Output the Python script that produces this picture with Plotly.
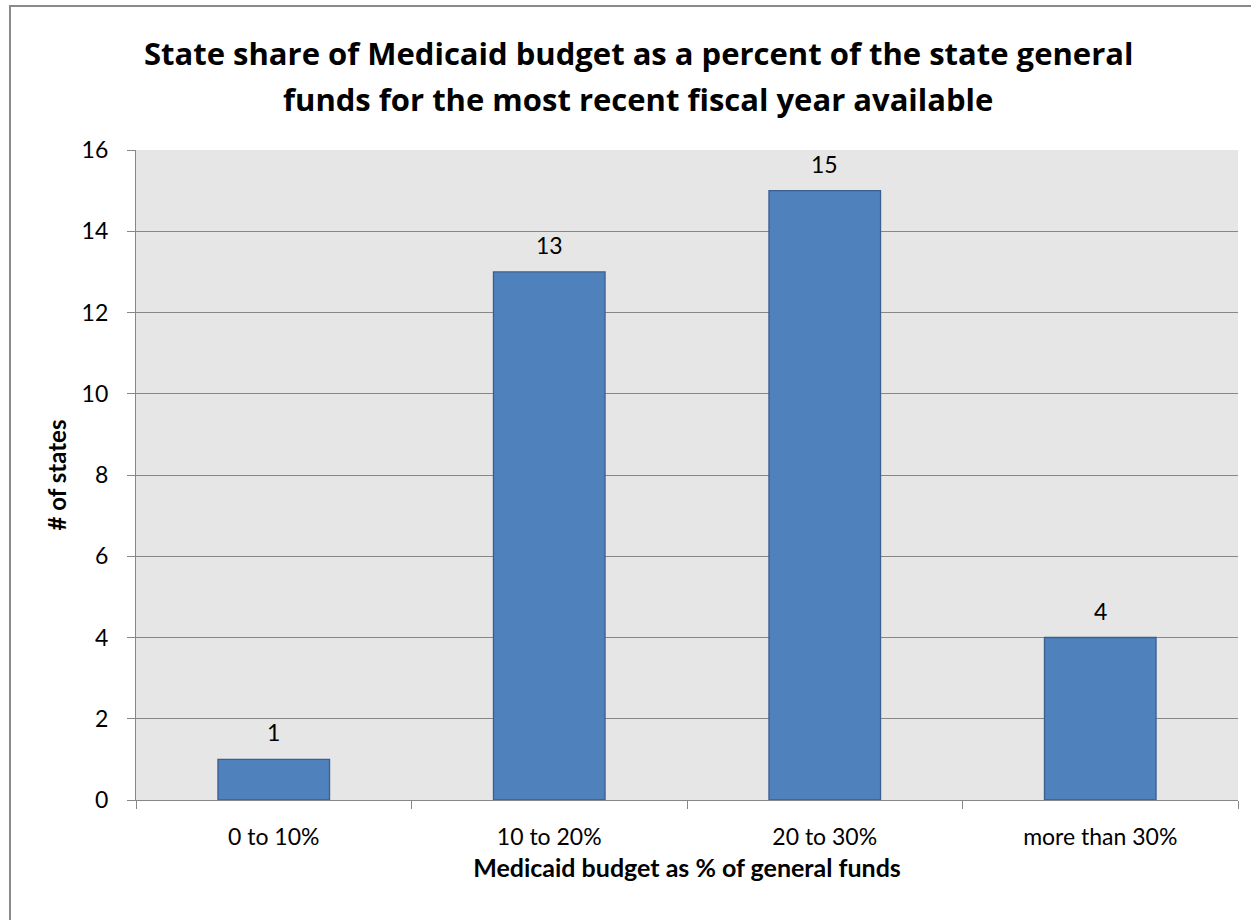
import plotly.graph_objects as go

# Number of states by Medicaid share of state general funds
categories = ["0 to 10%", "10 to 20%", "20 to 30%", "more than 30%"]
state_counts = [1, 13, 15, 4]
y_ticks = [0, 2, 4, 6, 8, 10, 12, 14, 16]

title_lines = ["State share of Medicaid budget as a percent of the state general",
               "funds for the most recent fiscal year available"]
x_title = "Medicaid budget as % of general funds"
y_title = "# of states"

FONT = "Lato"
TITLE_FONT = "Open Sans"
GRID = "#878787"

W, H = 1251, 920
ML, MR, MT, MB = 136, 13, 150, 120
PW, PH = W - ML - MR, H - MT - MB


def px_x(p):
    return (p - ML) / PW


def px_y(p):
    return (H - MB - p) / PH


fig = go.Figure()
fig.add_trace(go.Bar(
    x=categories,
    y=state_counts,
    marker=dict(color="#4f81bd", line=dict(color="#3a6090", width=1.3)),
    width=0.405,
    hoverinfo="x+y",
))

# value labels above each bar
for cat, val in zip(categories, state_counts):
    fig.add_annotation(x=cat, y=val, text=str(val), showarrow=False,
                       yshift=27, font=dict(family=FONT, size=23, color="#000000"))

# chart title, one annotation per line for wider line spacing
for line, ypix in zip(title_lines, [53, 99]):
    fig.add_annotation(xref="paper", yref="paper", x=px_x(638), y=px_y(ypix),
                       xanchor="center", yanchor="middle", showarrow=False,
                       text=line,
                       font=dict(family=TITLE_FONT, size=31, color="#000000",
                                 weight="bold"))

# outer chart frame
fig.add_shape(type="rect", xref="paper", yref="paper",
              x0=px_x(10), x1=px_x(1275), y0=px_y(940), y1=px_y(6),
              line=dict(color="#8a8a8a", width=2), fillcolor="rgba(0,0,0,0)",
              layer="below")

fig.update_layout(
    width=W, height=H,
    margin=dict(l=ML, r=MR, t=MT, b=MB),
    paper_bgcolor="#ffffff",
    plot_bgcolor="#e6e6e6",
    showlegend=False,
    xaxis=dict(
        type="category", tickson="boundaries", ticks="outside", ticklen=8,
        tickcolor=GRID, tickwidth=1.3, showline=True, linecolor=GRID, linewidth=1.3,
        showgrid=False, tickfont=dict(family=FONT, size=23, color="#000000"),
        ticklabelstandoff=16,
        title=dict(text=x_title, standoff=10,
                   font=dict(family=FONT, size=25, color="#000000", weight="bold")),
        range=[-0.5, 3.5],
    ),
    yaxis=dict(
        range=[0, 16], tickvals=y_ticks, ticks="outside", ticklen=8,
        tickcolor=GRID, tickwidth=1.3, showline=True, linecolor=GRID, linewidth=1.3,
        showgrid=True, gridcolor=GRID, gridwidth=1.3, zeroline=False,
        tickfont=dict(family=FONT, size=23, color="#000000"),
        ticklabelstandoff=14,
        title=dict(text=y_title, standoff=8,
                   font=dict(family=FONT, size=24, color="#000000", weight="bold")),
    ),
)

fig.write_html("out.html")
